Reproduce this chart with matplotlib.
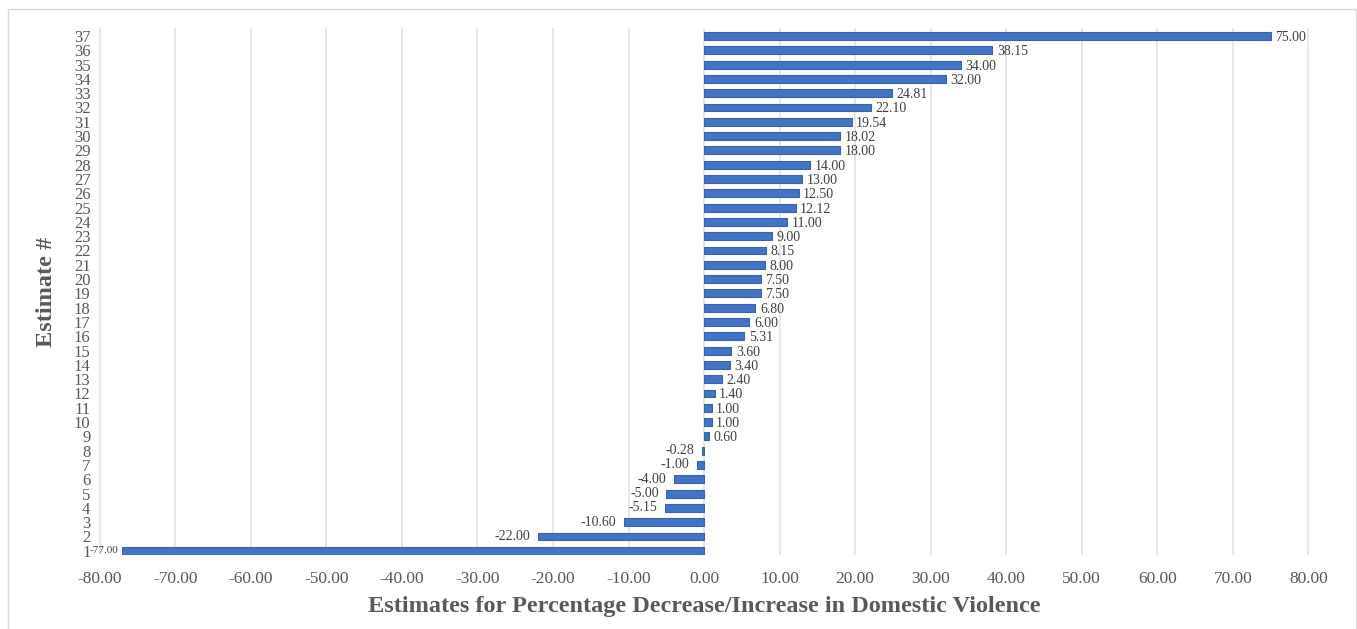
import matplotlib.pyplot as plt
from matplotlib.patches import Rectangle

# estimate number -> percentage change in domestic violence
estimates = list(range(1, 38))
changes = [-77.00, -22.00, -10.60, -5.15, -5.00, -4.00, -1.00, -0.28, 0.60, 1.00,
           1.00, 1.40, 2.40, 3.40, 3.60, 5.31, 6.00, 6.80, 7.50, 7.50,
           8.00, 8.15, 9.00, 11.00, 12.12, 12.50, 13.00, 14.00, 18.00, 18.02,
           19.54, 22.10, 24.81, 32.00, 34.00, 38.15, 75.00]
x_ticks = list(range(-80, 81, 10))

plt.rcParams['font.family'] = ['Liberation Serif', 'DejaVu Serif']

fig = plt.figure(figsize=(13.57, 6.29), dpi=100)
ax = fig.add_axes([0.0707, 0.118, 0.8963, 0.8375])

# light frame around the whole chart
fig.patches.append(Rectangle((0.006, -0.01), 0.993, 0.995, transform=fig.transFigure,
                             fill=False, edgecolor='#d9d9d9', linewidth=1))

ax.barh(estimates, changes, height=0.55, color='#4472C4', edgecolor='#3a62ad',
        linewidth=0.8, zorder=3)

for y, v in zip(estimates, changes):
    if y == 1:
        ax.text(v - 0.6, y, f"{v:.2f}", ha='right', va='center', fontsize=8,
                color='#404040')
    elif v < 0:
        ax.text(v - 1.0, y, f"{v:.2f}", ha='right', va='center',
                fontsize=10, color='#404040')
    else:
        ax.text(v + 0.6, y - 0.1, f"{v:.2f}", ha='left', va='center',
                fontsize=10, color='#404040')

ax.set_xlim(-80.5, 80.5)
ax.set_ylim(0.72, 37.56)
ax.set_xticks(x_ticks)
ax.set_xticklabels([f"{t:.2f}" for t in x_ticks])
ax.set_yticks(estimates)
ax.set_yticklabels([str(e) for e in estimates])

ax.grid(axis='x', color='#e3e3e3', linewidth=1.2, zorder=0)
ax.tick_params(axis='x', length=0, pad=12, labelsize=12.5, labelcolor='#595959')
ax.tick_params(axis='y', length=0, pad=4, labelsize=12, labelcolor='#595959')
for s in ax.spines.values():
    s.set_visible(False)

ax.set_xlabel("Estimates for Percentage Decrease/Increase in Domestic Violence",
              fontsize=17.5, fontweight='bold', color='#595959', labelpad=6)
ax.set_ylabel("Estimate #", fontsize=17.5, fontweight='bold', color='#595959',
              labelpad=12)

fig.savefig("out.png", dpi=100)
